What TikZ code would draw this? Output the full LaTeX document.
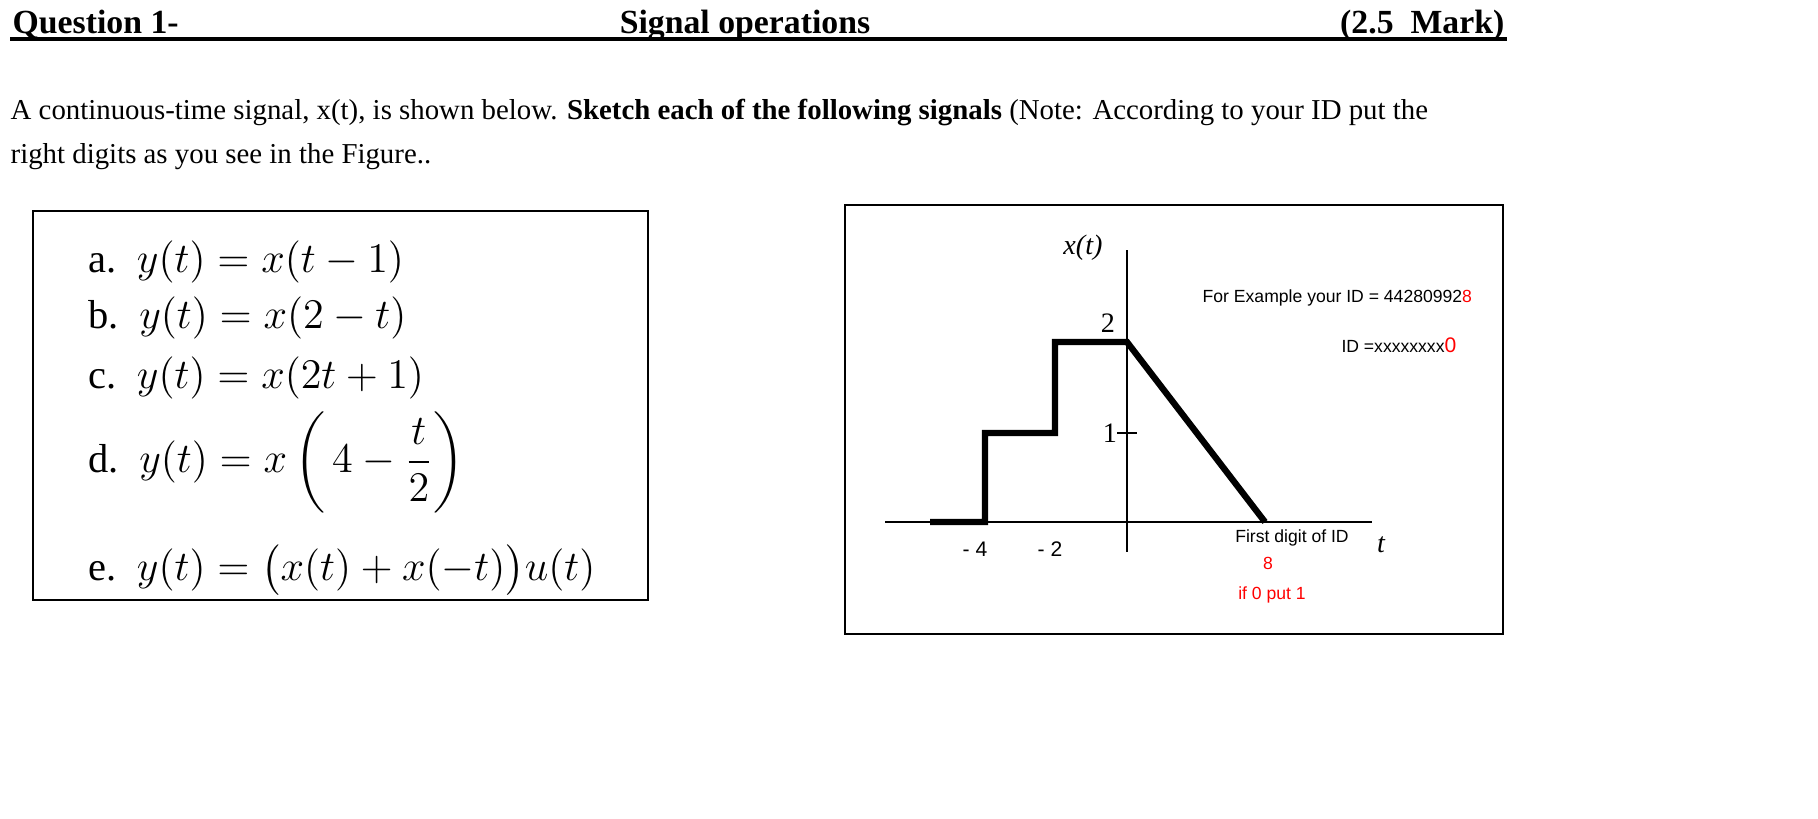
\documentclass[tikz,border=0pt]{standalone}
\usepackage{amsmath}
\usepackage{fontspec}
\setmainfont{Liberation Serif}
\newfontfamily\plotfont{Liberation Sans}
\begin{document}
\begin{tikzpicture}[x=0.01cm,y=-0.01cm,
  txt/.style={inner sep=0pt,font=\fontsize{8.2pt}{10pt}\selectfont},
  eq/.style={inner sep=0pt,anchor=west,font=\fontsize{11.5pt}{13pt}\selectfont},
  pl/.style={inner sep=0pt,font=\plotfont\fontsize{5pt}{6pt}\selectfont},
  box/.style={draw,line width=0.8pt}]
\useasboundingbox (0,0) rectangle (1818,818);
% title
\node[txt,anchor=base west,font=\bfseries\fontsize{9.6pt}{11pt}\selectfont] (q) at (12,33) {Question 1-};
\node[txt,anchor=base,font=\bfseries\fontsize{9.6pt}{11pt}\selectfont] (so) at (745,33) {Signal operations};
\node[txt,anchor=base east,font=\bfseries\fontsize{9.6pt}{11pt}\selectfont] (mk) at (1505,33) {(2.5\ \ Mark)};
\draw[line width=1.1pt] (10,39) -- (1507,39);
% text
\node[txt,anchor=west] (l1) at (10,113) {A continuous-time signal, x(t), is shown below. \textbf{Sketch each of the following signals} (Note: According to your ID put the};
\node[txt,anchor=west] (l2) at (10,157) {right digits as you see in the Figure..};
% left box
\draw[box] (33,211) rectangle (648,600);
\node[eq] (ea) at (88,262) {a.\ \ $y(t)=x(t-1)$};
\node[eq] (eb) at (88,318) {b.\ \ $y(t)=x(2-t)$};
\node[eq] (ec) at (88,378) {c.\ \ $y(t)=x(2t+1)$};
\node[eq] (ed) at (88,462) {d.\ \ $y(t)=x\left(\,4-\dfrac{t}{2}\right)$};
\node[eq] (ee) at (88,570) {e.\ \ $y(t)=\bigl(x(t)+x(-t)\bigr)u(t)$};
% right box
\draw[box] (845,205) rectangle (1503,634);
\draw[line width=0.8pt] (885,522) -- (1372,522);
\draw[line width=0.8pt] (1127,250) -- (1127,552);
\draw[line width=1.8pt] (930,522) -- (985,522) -- (985,433) -- (1055,433) -- (1055,342) -- (1127,342) -- (1265,522);
\draw[line width=0.6pt] (1117,433) -- (1137,433);
\node[pl,font=\itshape\fontsize{8pt}{9pt}\selectfont] (xt) at (1083,248) {x(t)};
\node[txt,font=\fontsize{8pt}{9pt}\selectfont] (n2) at (1108,323) {2};
\node[txt,font=\fontsize{8pt}{9pt}\selectfont] (n1) at (1110,433) {1};
\node[pl,font=\plotfont\fontsize{6pt}{7pt}\selectfont] (m4) at (975,549) {- 4};
\node[pl,font=\plotfont\fontsize{6pt}{7pt}\selectfont] (m2) at (1050,549) {- 2};
\node[txt,font=\itshape\fontsize{8pt}{9pt}\selectfont] (tt) at (1381,545) {t};
\node[pl,anchor=west] (id1) at (1202,298) {For Example your ID = 44280992\textcolor{red}{8}};
\node[pl,anchor=east] (id2) at (1457,345) {ID =xxxxxxxx\textcolor{red}{\fontsize{6pt}{7pt}\selectfont 0}};
\node[pl] (fd) at (1292,538) {First digit of ID};
\node[pl,text=red] (r8) at (1268,563) {8};
\node[pl,text=red] (r0) at (1272,595) {if 0 put 1};
\end{tikzpicture}
\end{document}
